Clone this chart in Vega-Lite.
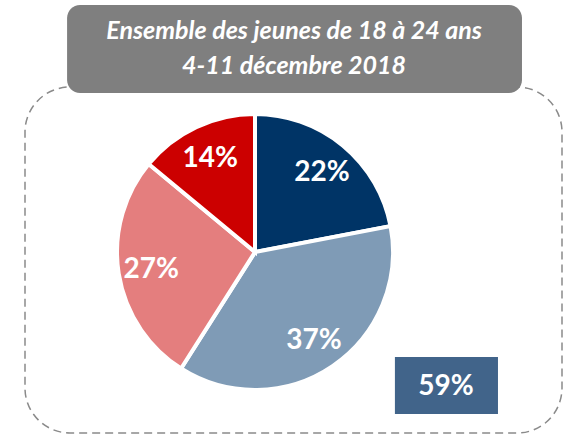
{
  "$schema": "https://vega.github.io/schema/vega-lite/v6.json",
  "width": 537,
  "height": 346,
  "autosize": {"type": "none"},
  "padding": {"left": 25, "top": 87, "right": 9, "bottom": 4},
  "background": "white",
  "view": {"stroke": "#8a8a8a", "strokeWidth": 1.5, "strokeDash": [8, 5], "cornerRadius": 45, "fill": null},
  "data": {
    "values": [
      {"part": 1, "v": 0.22},
      {"part": 2, "v": 0.37},
      {"part": 3, "v": 0.27},
      {"part": 4, "v": 0.14}
    ]
  },
  "layer": [
    {
      "mark": {"type": "arc", "outerRadius": 138, "stroke": "white", "strokeWidth": 4},
      "encoding": {
        "x": {"datum": 0, "type": "quantitative", "scale": {"domain": [-1.667, 2.225], "nice": false, "zero": false}, "axis": null},
        "y": {"datum": 0, "type": "quantitative", "scale": {"domain": [-1.312, 1.196], "nice": false, "zero": false}, "axis": null},
        "theta": {"field": "v", "type": "quantitative", "stack": true},
        "order": {"field": "part", "type": "ordinal"},
        "color": {"field": "part", "type": "ordinal", "scale": {"domain": [1, 2, 3, 4], "range": ["#003466", "#7f9bb6", "#e47e7e", "#cc0000"]}, "legend": null}
      }
    },
    {
      "mark": {"type": "text", "radius": 105, "dy": 2, "font": "Lato", "fontSize": 28, "fontWeight": "bold", "color": "white", "align": "center", "baseline": "middle"},
      "encoding": {
        "x": {"datum": 0, "type": "quantitative"},
        "y": {"datum": 0, "type": "quantitative"},
        "theta": {"field": "v", "type": "quantitative", "stack": true},
        "order": {"field": "part", "type": "ordinal"},
        "text": {"field": "v", "type": "quantitative", "format": ".0%"}
      }
    },
    {
      "data": {"values": [{"label": "59%"}]},
      "mark": {"type": "rect", "color": "#41648a"},
      "encoding": {
        "x": {"datum": 1.014, "type": "quantitative"},
        "x2": {"datum": 1.761},
        "y": {"datum": -0.761, "type": "quantitative"},
        "y2": {"datum": -1.174}
      }
    },
    {
      "data": {"values": [{"label": "59%"}]},
      "mark": {"type": "text", "dy": 1, "font": "Lato", "fontSize": 28, "fontWeight": "bold", "color": "white", "align": "center", "baseline": "middle"},
      "encoding": {
        "x": {"datum": 1.384, "type": "quantitative"},
        "y": {"datum": -0.971, "type": "quantitative"},
        "text": {"field": "label"}
      }
    },
    {
      "data": {"values": [{"t": "title"}]},
      "mark": {"type": "rect", "color": "#7f7f7f", "cornerRadius": 13},
      "encoding": {
        "x": {"datum": -1.362, "type": "quantitative"},
        "x2": {"datum": 1.935},
        "y": {"datum": 1.790, "type": "quantitative"},
        "y2": {"datum": 1.152}
      }
    },
    {
      "data": {"values": [{"t": "title"}]},
      "mark": {"type": "text", "text": ["Ensemble des jeunes de 18 à 24 ans", "4-11 décembre 2018"], "lineHeight": 35, "font": "Lato", "fontSize": 25, "fontWeight": "bold", "fontStyle": "italic", "color": "white", "align": "center", "baseline": "alphabetic"},
      "encoding": {
        "x": {"datum": 0.283, "type": "quantitative"},
        "y": {"datum": 1.543, "type": "quantitative"}
      }
    }
  ]
}
